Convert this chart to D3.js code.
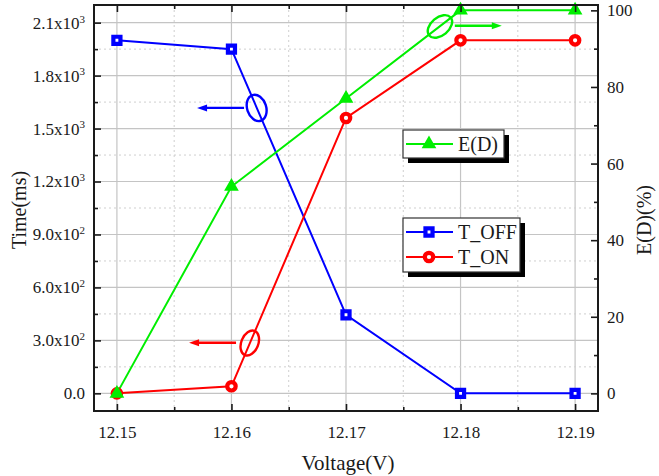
<!DOCTYPE html>
<html>
<head>
<meta charset="utf-8">
<script src="https://cdn.jsdelivr.net/npm/d3@7"></script>
<style>
  body { margin: 0; background: #fff; }
  svg { display: block; }
  text { font-family: "Liberation Serif", "Times New Roman", serif; fill: #1a1a1a; }
</style>
</head>
<body>
<svg id="chart" width="659" height="476"></svg>
<script>
// Switching voltage sweep: turn-off / turn-on times and E(D)
const voltages   = [12.15, 12.16, 12.17, 12.18, 12.19];
const tOff       = [2000, 1950, 445, 0, 0];      // ms
const tOn        = [0, 40, 1560, 2000, 2000];    // ms
const efficiency = [0, 54, 77, 100, 100];        // %

const voltTickLabels   = ["12.15", "12.16", "12.17", "12.18", "12.19"];
const timeTicks        = [0, 300, 600, 900, 1200, 1500, 1800, 2100];
const timeTickMantissa = ["0.0", "3.0", "6.0", "9.0", "1.2", "1.5", "1.8", "2.1"];
const timeTickExponent = ["", "2", "2", "2", "3", "3", "3", "3"];
const effTicks         = [0, 20, 40, 60, 80, 100];

const seriesNames = ["T_OFF", "T_ON", "E(D)"];

// Callouts: ellipse on a curve plus an arrow pointing to its axis
const calloutAt   = [[12.1622, 1617], [12.1616, 285], [12.1782, 95.8]];
const arrowFrom   = [12.1611, 12.1604, 12.1795];
const arrowTo     = [12.1570, 12.1563, 12.1836];
const arrowLevel  = [1617, 287, 96];

const svg = d3.select("#chart");
const L = 94, R = 598, T = 5, B = 411;

const x  = d3.scaleLinear().domain([12.148, 12.192]).range([L, R]);
const yL = d3.scaleLinear().domain([-100, 2200]).range([B, T]);
const yR = d3.scaleLinear().domain([-4.6, 101.4]).range([B, T]);

const BLUE = "#0000ff", RED = "#ff0000", GREEN = "#00ee00";

// Grid: solid at major ticks, dotted half-way between
const grid = svg.append("g");
const xMinor = voltages.slice(0, -1).map(v => v + 0.005);
const yMinor = timeTicks.map(v => v + 150).filter(v => v < 2200);
grid.selectAll(".gx").data(voltages).join("line")
  .attr("x1", d => x(d)).attr("x2", d => x(d)).attr("y1", T).attr("y2", B)
  .attr("stroke", "#c4c4c4").attr("stroke-width", 1.2);
grid.selectAll(".gxm").data(xMinor).join("line")
  .attr("x1", d => x(d)).attr("x2", d => x(d)).attr("y1", T).attr("y2", B)
  .attr("stroke", "#cfcfcf").attr("stroke-width", 1).attr("stroke-dasharray", "2,3");
grid.selectAll(".gy").data(timeTicks).join("line")
  .attr("x1", L).attr("x2", R).attr("y1", d => yL(d)).attr("y2", d => yL(d))
  .attr("stroke", "#c4c4c4").attr("stroke-width", 1.2);
grid.selectAll(".gym").data(yMinor).join("line")
  .attr("x1", L).attr("x2", R).attr("y1", d => yL(d)).attr("y2", d => yL(d))
  .attr("stroke", "#cfcfcf").attr("stroke-width", 1).attr("stroke-dasharray", "2,3");

// Series
const idx = d3.range(voltages.length);
const lineL = vals => d3.line().x(i => x(voltages[i])).y(i => yL(vals[i]));
const lineR = vals => d3.line().x(i => x(voltages[i])).y(i => yR(vals[i]));

const series = [
  { vals: tOff, line: lineL(tOff), y: yL, color: BLUE, sym: d3.symbolSquare, size: 50 },
  { vals: tOn, line: lineL(tOn), y: yL, color: RED, sym: d3.symbolCircle, size: 56 },
  { vals: efficiency, line: lineR(efficiency), y: yR, color: GREEN, sym: d3.symbolTriangle, size: 24 }
];

const plot = svg.append("g");
series.forEach(s => {
  plot.append("path").datum(idx).attr("d", s.line)
    .attr("fill", "none").attr("stroke", s.color).attr("stroke-width", 2);
});
series.forEach(s => {
  plot.selectAll(null).data(idx).join("path")
    .attr("transform", i => `translate(${x(voltages[i])},${s.y(s.vals[i])})`)
    .attr("d", d3.symbol().type(s.sym).size(s.size)())
    .attr("fill", "#fff").attr("stroke", s.color).attr("stroke-width", 4.2);
});

// Callouts
const calloutColor = [BLUE, RED, GREEN];
const calloutScale = [yL, yL, yR];
const ellipseShape = [[9.5, 13.5, -18], [8.5, 13, 22], [14, 9, -40]];
const callouts = svg.append("g");
calloutAt.forEach((c, i) => {
  const cx = x(c[0]), cy = calloutScale[i](c[1]);
  const [rx, ry, rot] = ellipseShape[i];
  callouts.append("ellipse")
    .attr("transform", `translate(${cx},${cy}) rotate(${rot})`)
    .attr("rx", rx).attr("ry", ry)
    .attr("fill", "none").attr("stroke", calloutColor[i]).attr("stroke-width", 2.4);
  const x0 = x(arrowFrom[i]), x1 = x(arrowTo[i]), ay = calloutScale[i](arrowLevel[i]);
  const dir = Math.sign(x1 - x0);
  callouts.append("line")
    .attr("x1", x0).attr("x2", x1 - dir * 7).attr("y1", ay).attr("y2", ay)
    .attr("stroke", calloutColor[i]).attr("stroke-width", 2.4);
  callouts.append("path")
    .attr("d", `M${x1},${ay} L${x1 - dir * 10},${ay - 3.5} L${x1 - dir * 10},${ay + 3.5} Z`)
    .attr("fill", calloutColor[i]);
});

// Axes with inward ticks
const tickStyle = g => {
  g.select(".domain").remove();
  g.attr("font-family", null);
  g.selectAll(".tick line").attr("stroke", "#1a1a1a").attr("stroke-width", 1.6);
  g.selectAll("text").attr("font-size", 17).attr("fill", "#1a1a1a")
    .style("font-family", '"Liberation Serif","Times New Roman",serif');
};

const yMinorTicks = d3.range(150, 2200, 300);
svg.append("g").attr("transform", `translate(${L},0)`)
  .call(d3.axisLeft(yL).tickValues(yMinorTicks).tickSize(-4).tickFormat(""))
  .call(tickStyle);
const leftAxis = svg.append("g").attr("transform", `translate(${L},0)`)
  .call(d3.axisLeft(yL).tickValues(timeTicks).tickSize(-7).tickPadding(9)
    .tickFormat((d, i) => timeTickMantissa[i] + (timeTickExponent[i] ? "x10" : "")))
  .call(tickStyle);
leftAxis.selectAll(".tick text").each(function (d, i) {
  if (timeTickExponent[i]) {
    d3.select(this).append("tspan")
      .attr("dy", "-0.55em").attr("font-size", 11).text(timeTickExponent[i]);
  }
});

svg.append("g").attr("transform", `translate(${R},0)`)
  .call(d3.axisRight(yR).tickValues(d3.range(10, 101, 20)).tickSize(-4).tickFormat(""))
  .call(tickStyle);
svg.append("g").attr("transform", `translate(${R},0)`)
  .call(d3.axisRight(yR).tickValues(effTicks).tickSize(-7).tickPadding(9).tickFormat(d3.format("d")))
  .call(tickStyle);

svg.append("g").attr("transform", `translate(0,${B})`)
  .call(d3.axisBottom(x).tickValues(xMinor).tickSize(-4).tickFormat(""))
  .call(tickStyle);
svg.append("g").attr("transform", `translate(0,${B})`)
  .call(d3.axisBottom(x).tickValues(voltages).tickSize(-7).tickPadding(15)
    .tickFormat((d, i) => voltTickLabels[i]))
  .call(tickStyle);

svg.append("g").attr("transform", `translate(0,${T})`)
  .call(d3.axisTop(x).tickValues(xMinor).tickSize(-4).tickFormat(""))
  .call(tickStyle);
svg.append("g").attr("transform", `translate(0,${T})`)
  .call(d3.axisTop(x).tickValues(voltages).tickSize(-7).tickFormat(""))
  .call(tickStyle);

// Frame
svg.append("rect").attr("x", L).attr("y", T).attr("width", R - L).attr("height", B - T)
  .attr("fill", "none").attr("stroke", "#1a1a1a").attr("stroke-width", 2);

// Axis titles
svg.append("text").attr("transform", `translate(26,210) rotate(-90)`)
  .attr("text-anchor", "middle").attr("font-size", 20).text("Time(ms)");
svg.append("text").attr("transform", `translate(651,220) rotate(-90)`)
  .attr("text-anchor", "middle").attr("font-size", 20).text("E(D)(%)");
svg.append("text").attr("x", 348).attr("y", 470)
  .attr("text-anchor", "middle").attr("font-size", 21).text("Voltage(V)");

// Legends with drop shadow
function legend(x0, y0, w, h, items) {
  const g = svg.append("g");
  g.append("rect").attr("x", x0 + 5).attr("y", y0 + 5).attr("width", w).attr("height", h).attr("fill", "#000");
  g.append("rect").attr("x", x0).attr("y", y0).attr("width", w).attr("height", h)
    .attr("fill", "#fff").attr("stroke", "#333").attr("stroke-width", 1.2);
  items.forEach((k, j) => {
    const s = series[k], cy = y0 + 14 + j * 25;
    g.append("line").attr("x1", x0 + 3).attr("x2", x0 + 50).attr("y1", cy).attr("y2", cy)
      .attr("stroke", s.color).attr("stroke-width", 2);
    g.append("path").attr("transform", `translate(${x0 + 26},${cy})`)
      .attr("d", d3.symbol().type(s.sym).size(s.size)())
      .attr("fill", "#fff").attr("stroke", s.color).attr("stroke-width", 4.2);
    g.append("text").attr("x", x0 + 55).attr("y", cy + 7).attr("font-size", 20).text(seriesNames[k]);
  });
}
legend(403, 130, 101, 28, [2]);
legend(403, 218, 117, 54, [0, 1]);
</script>
</body>
</html>
